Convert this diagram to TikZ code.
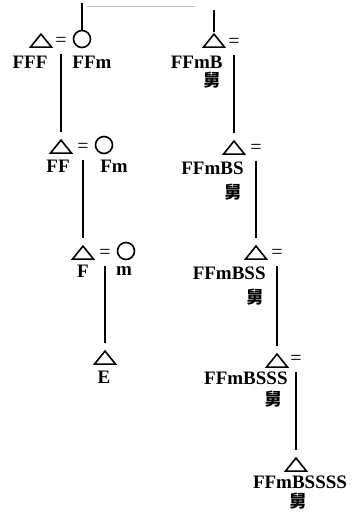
\documentclass[tikz,border=0pt]{standalone}
\usepackage{fontspec}
\setmainfont{Liberation Serif}
\newfontfamily\cjk{Noto Sans CJK SC}
\usetikzlibrary{shapes.geometric}

\begin{document}
\begin{tikzpicture}[x=0.5pt,y=-0.5pt,
    tri/.style={isosceles triangle,isosceles triangle stretches,shape border rotate=90,
      draw,line width=0.8pt,inner sep=0pt,minimum width=10.5pt,minimum height=6.5pt,anchor=apex},
    circ/.style={circle,draw,line width=0.8pt,inner sep=0pt,minimum size=8.5pt},
    eqs/.style={inner sep=0.5pt,font=\fontsize{10}{10}\selectfont},
    lbl/.style={inner sep=0pt,font=\bfseries\fontsize{9.5}{10}\selectfont},
    kin/.style={inner sep=0pt,font=\cjk\bfseries\fontsize{8.5}{9}\selectfont},
    link/.style={line width=0.9pt,shorten <=3pt,shorten >=3pt}]

    \useasboundingbox (0,0) rectangle (355,516);

    % left line: FFF = FFm down to E
    \node[tri] (t1) at (41,32) {};
    \node[eqs] (e1) at (61,42) {=};
    \node[circ] (c1) at (82,39) {};
    \node[lbl] (n1) at (30,62) {FFF};
    \node[lbl] (w1) at (92,62) {FFm};

    \node[tri] (t2) at (61,138) {};
    \node[eqs] (e2) at (83,148) {=};
    \node[circ] (c2) at (104,145) {};
    \node[lbl] (n2) at (58,166) {FF};
    \node[lbl] (w2) at (114,166) {Fm};

    \node[tri] (t3) at (83,244) {};
    \node[eqs] (e3) at (105,254) {=};
    \node[circ] (c3) at (126,251) {};
    \node[lbl] (n3) at (83,271) {F};
    \node[lbl] (w3) at (124,271) {m};

    \node[tri] (t4) at (105,349) {};
    \node[lbl] (n4) at (104,377) {E};

    \draw[link] (e1.south) -- (t2.apex);
    \draw[link] (e2.south) -- (t3.apex);
    \draw[link] (e3.south) -- (t4.apex);

    % right line: FFmB and his sons
    \node[tri] (r1) at (214,32) {};
    \node[eqs] (f1) at (234,43) {=};
    \node[lbl,anchor=east] (b1) at (223,62) {FFmB};
    \node[kin] (k1) at (212,80) {舅};

    \node[tri] (r2) at (234,139) {};
    \node[eqs] (f2) at (256,149) {=};
    \node[lbl,anchor=east] (b2) at (244,168) {FFmBS};
    \node[kin] (k2) at (233,192) {舅};

    \node[tri] (r3) at (256,244) {};
    \node[eqs] (f3) at (277,254) {=};
    \node[lbl,anchor=east] (b3) at (266,273) {FFmBSS};
    \node[kin] (k3) at (255,297) {舅};

    \node[tri] (r4) at (277,352) {};
    \node[eqs] (f4) at (296,360) {=};
    \node[lbl,anchor=east] (b4) at (288,378) {FFmBSSS};
    \node[kin] (k4) at (273,399) {舅};

    \node[tri] (r5) at (296,456) {};
    \node[lbl] (b5) at (300,482) {FFmBSSSS};
    \node[kin] (k5) at (298,501) {舅};

    \draw[link] (f1.south) -- (r2.apex);
    \draw[link] (f2.south) -- (r3.apex);
    \draw[link] (f3.south) -- (r4.apex);
    \draw[link] (f4.south) -- (r5.apex);

    % siblings at the top
    \coordinate (s1) at (82,3);
    \coordinate (s2) at (214,10);
    \draw[link,shorten <=0pt,shorten >=0pt] (c1.north) -- (s1);
    \draw[link,shorten <=0pt,shorten >=0pt] (r1.apex) -- (s2);
    \draw[gray!50,thin] (87,6) -- (195,6);

\end{tikzpicture}
\end{document}
